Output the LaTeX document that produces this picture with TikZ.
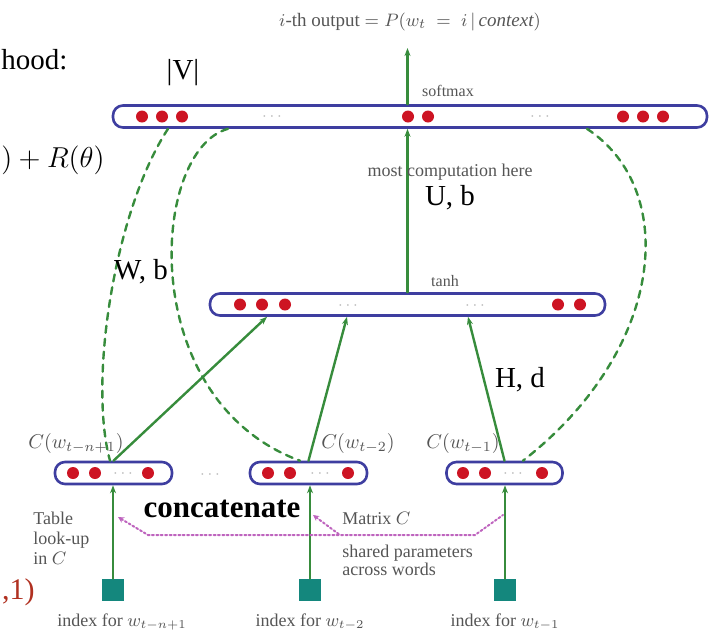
\documentclass[tikz,border=0pt]{standalone}
\usepackage{fontspec}
\setmainfont{Liberation Serif}
\usetikzlibrary{arrows.meta,calc,positioning}
\definecolor{layerblue}{RGB}{62,62,160}
\definecolor{unitred}{RGB}{205,20,35}
\definecolor{linkgreen}{RGB}{55,140,60}
\definecolor{sharepink}{RGB}{190,100,190}
\definecolor{keyteal}{RGB}{20,135,125}
\definecolor{labelgray}{RGB}{85,85,85}
\definecolor{lossred}{RGB}{176,48,32}

\begin{document}
\begin{tikzpicture}[x=0.5pt,y=-0.5pt,>=Stealth,line cap=round,
  every node/.style={font=\fontsize{9}{9}\selectfont,text=labelgray},
  layer/.style={draw=layerblue,line width=1.3pt,rounded corners=5pt,
   fill=white,minimum height=11pt,inner sep=0pt},
  link/.style={->,linkgreen,line width=1.2pt,
   >={Stealth[length=4pt,width=3pt]}},
  direct/.style={linkgreen,line width=1.2pt,dash pattern=on 3.5pt off 3pt},
  shared/.style={sharepink,line width=1pt,dash pattern=on 1pt off 1.2pt,
   >={Stealth[length=3pt,width=3pt]}},
  big/.style={font=\fontsize{14.5}{15}\selectfont,text=black},
  tiny/.style={font=\fontsize{8}{8}\selectfont},
  skip/.style={text=gray!55,font=\fontsize{8}{8}\selectfont},
  keysq/.style={fill=keyteal,minimum size=11pt,inner sep=0pt}]
 \useasboundingbox (0,0) rectangle (712,634);
 \clip (0,0) rectangle (712,634);
 % layers
 \node[layer,minimum width=297pt] (softbar) at (410,116.5) {};
 \node[layer,minimum width=197.5pt] (tanhbar) at (407.5,304.5) {};
 \node[layer,minimum width=58.5pt] (bar1) at (113.5,473) {};
 \node[layer,minimum width=58.5pt] (bar2) at (308.5,473) {};
 \node[layer,minimum width=58pt] (bar3) at (504.5,473) {};
 \foreach \x in {142,162,182,408,428,623,643,663}
  \fill[unitred] (\x,116.5) circle (3pt);
 \foreach \x in {240,262,285,558,580}
  \fill[unitred] (\x,304.5) circle (3pt);
 \foreach \x in {73,95,148,268,290,348,463,485,542}
  \fill[unitred] (\x,473) circle (3pt);
 \node[skip] at (272,116.5) {$\cdots$};
 \node[skip] at (540,116.5) {$\cdots$};
 \node[skip] at (348,306) {$\cdots$};
 \node[skip] at (475,306) {$\cdots$};
 \node[skip] at (123,474) {$\cdots$};
 \node[skip] at (320,474) {$\cdots$};
 \node[skip] at (513,474) {$\cdots$};
 \node[skip] at (210,475) {$\cdots$};
 % word indices
 \node[keysq] (idx1) at (113,590) {};
 \node[keysq] (idx2) at (310,590) {};
 \node[keysq] (idx3) at (505,590) {};
 \draw[link] (idx1) -- (idx1 |- bar1.south);
 \draw[link] (idx2) -- (idx2 |- bar2.south);
 \draw[link] (idx3) -- (idx3 |- bar3.south);
 % hidden and output links
 \draw[link] (bar1.north) -- (267,0 |- tanhbar.south);
 \draw[link] (bar2.north) -- (347,0 |- tanhbar.south);
 \draw[link] (bar3.north) -- (468,0 |- tanhbar.south);
 \draw[link] (tanhbar.north) -- (tanhbar.north |- softbar.south);
 \node[font=\fontsize{9.5}{9.5}\selectfont] (outlabel) at (410,22)
  {$i$-th output $=P(w_t\;=\;i\,|\,\mathit{context})$};
 \draw[link,shorten >=5pt] (tanhbar.north |- softbar.north) --
  (tanhbar.north |- outlabel.south);
 % direct connections
 \draw[direct] (168,0 |- softbar.south) .. controls (115,210) and (88,380)
  .. (110,0 |- bar1.north);
 \draw[direct] (228,0 |- softbar.south) .. controls (150,150) and (135,400)
  .. (300,0 |- bar2.north);
 \draw[direct] (587,0 |- softbar.south) .. controls (680,190) and (665,350)
  .. (523,0 |- bar3.north);
 % shared lookup
 \coordinate (s1) at (118,517);
 \coordinate (s2) at (313,515);
 \coordinate (s3) at (503,515);
 \coordinate (j1) at (148,535);
 \coordinate (j2) at (340,535);
 \coordinate (j3) at (475,535);
 \draw[shared,<-] (s1) -- (j1) -- (j3) -- (s3);
 \draw[shared,<-] (s2) -- (j2);
 % labels
 \node[big] at (183,73) {|V|};
 \node[tiny] at (448,91) {softmax};
 \node at (450,172) {most computation here};
 \node[big] at (450,198) {U, b};
 \node[big] at (141,272) {W, b};
 \node[tiny] at (445,281) {tanh};
 \node[big] at (520,380) {H, d};
 \node[font=\fontsize{10}{10}\selectfont] at (76,443) {$C(w_{t-n+1})$};
 \node[font=\fontsize{10}{10}\selectfont] at (358,443) {$C(w_{t-2})$};
 \node[font=\fontsize{10}{10}\selectfont] at (463,443) {$C(w_{t-1})$};
 \node[font=\bfseries\fontsize{15.5}{16}\selectfont,text=black]
  at (222,509) {concatenate};
 \node[anchor=north west,align=left,inner sep=0pt,
  font=\fontsize{9}{10}\selectfont] at (33,512) {Table\\look-up\\in $C$};
 \node[anchor=west,inner sep=0pt] at (342,518) {Matrix $C$};
 \node[anchor=north west,align=left,inner sep=0pt,
  font=\fontsize{9}{8.8}\selectfont] at (342,545)
  {shared parameters\\across words};
 \node at (122,622) {index for $w_{t-n+1}$};
 \node at (310,622) {index for $w_{t-2}$};
 \node at (505,622) {index for $w_{t-1}$};
 % cut slide text
 \node[anchor=west,inner sep=0pt,text=black,font=\fontsize{14.5}{15}\selectfont]
  at (1,60) {hood:};
 \node[anchor=east,inner sep=0pt,text=black,font=\fontsize{15}{15}\selectfont]
  at (105,160) {$)+R(\theta)$};
 \node[anchor=east,inner sep=0pt,text=lossred,font=\fontsize{15}{15}\selectfont]
  at (35,592) {,1)};
\end{tikzpicture}
\end{document}
